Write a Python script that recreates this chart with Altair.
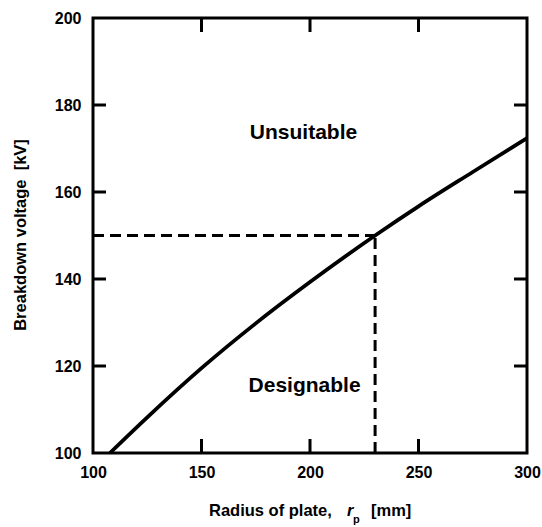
import altair as alt
import pandas as pd

# Breakdown voltage of the gap as a function of plate radius
radius_mm = [107.8, 125, 150, 175, 200, 230, 250, 275, 300]
breakdown_kv = [100.0, 108.2, 119.5, 129.8, 139.3, 150.0, 156.7, 164.6, 172.4]

# Design point: required voltage and the matching radius
design_radius = 230
design_voltage = 150

x_ticks = [100, 150, 200, 250, 300]
y_ticks = [100, 120, 140, 160, 180, 200]
inner_x_ticks = [150, 200, 250]
inner_y_ticks = [120, 140, 160, 180]

region_labels = ["Unsuitable", "Designable"]
region_x = [197.0, 197.5]
region_y = [173.6, 115.3]

W, H = 434, 435
FONT = "Liberation Sans"
INK = "black"
NBSP = "\u00a0"

xs = alt.Scale(domain=[100, 300], nice=False, zero=False)
ys = alt.Scale(domain=[100, 200], nice=False, zero=False)

curve = alt.Chart(pd.DataFrame({"r": radius_mm, "v": breakdown_kv})).mark_line(
    color=INK, strokeWidth=3.8, interpolate="monotone"
).encode(
    x=alt.X("r:Q", scale=xs, axis=alt.Axis(values=x_ticks, title=None)),
    y=alt.Y("v:Q", scale=ys, axis=alt.Axis(values=y_ticks, title=None)),
)

h_dash = alt.Chart(pd.DataFrame({"x0": [100], "x1": [design_radius], "y": [design_voltage]})).mark_rule(
    color=INK, strokeWidth=3, strokeDash=[11, 6]
).encode(x=alt.X("x0:Q", scale=xs), x2="x1:Q", y=alt.Y("y:Q", scale=ys))

v_dash = alt.Chart(pd.DataFrame({"x": [design_radius], "y0": [100], "y1": [design_voltage]})).mark_rule(
    color=INK, strokeWidth=3, strokeDash=[11, 6]
).encode(x=alt.X("x:Q", scale=xs), y=alt.Y("y0:Q", scale=ys), y2="y1:Q")

# Inward-pointing ticks on all four sides
yt = pd.DataFrame({"v": inner_y_ticks})
xt = pd.DataFrame({"r": inner_x_ticks})
tick_style = dict(color=INK, strokeWidth=3)
left_ticks = alt.Chart(yt).mark_rule(**tick_style).encode(
    y=alt.Y("v:Q", scale=ys), x=alt.value(0), x2=alt.value(13))
right_ticks = alt.Chart(yt).mark_rule(**tick_style).encode(
    y=alt.Y("v:Q", scale=ys), x=alt.value(W - 13), x2=alt.value(W))
bottom_ticks = alt.Chart(xt).mark_rule(**tick_style).encode(
    x=alt.X("r:Q", scale=xs), y=alt.value(H - 14), y2=alt.value(H))
top_ticks = alt.Chart(xt).mark_rule(**tick_style).encode(
    x=alt.X("r:Q", scale=xs), y=alt.value(0), y2=alt.value(14))

regions = alt.Chart(pd.DataFrame({"t": region_labels, "x": region_x, "y": region_y})).mark_text(
    font=FONT, fontSize=21, fontWeight="bold", color=INK, align="center", baseline="middle"
).encode(x=alt.X("x:Q", scale=xs), y=alt.Y("y:Q", scale=ys), text="t:N")

# Axis titles (x title carries an italic symbol with a subscript)
def title_piece(text, x, y, size=16, style="normal", align="left", angle=0):
    return alt.Chart(pd.DataFrame({"t": [text]})).mark_text(
        font=FONT, fontSize=size, fontWeight="bold", fontStyle=style, color=INK,
        align=align, baseline="alphabetic", angle=angle
    ).encode(x=alt.value(x), y=alt.value(y), text="t:N")

x_title = (
    title_piece("Radius of plate,", 116, 498, size=16.5)
    + title_piece("r", 254, 498, size=16.5, style="italic")
    + title_piece("p", 260, 505, size=11)
    + title_piece("[mm]", 278, 498, size=16.5)
)
y_title = title_piece("Breakdown voltage" + NBSP + NBSP + "[kV]", -67, 217,
                      size=16.5, align="center", angle=270)

chart = alt.layer(
    curve, h_dash, v_dash, left_ticks, right_ticks, bottom_ticks, top_ticks,
    regions, x_title, y_title
).properties(
    width=W, height=H,
    autosize=alt.AutoSizeParams(type="none"),
    padding={"left": 93, "top": 18, "right": 15, "bottom": 74},
).configure_view(
    stroke=INK, strokeWidth=3
).configure_axis(
    domain=False, ticks=False, grid=False, tickSize=0,
    labelFont=FONT, labelFontSize=16, labelFontWeight="bold", labelColor=INK,
    labelFlush=False,
).configure_axisX(labelPadding=11).configure_axisY(labelPadding=12)

chart.save("out.html", embed_options={"renderer": "svg", "actions": False})
